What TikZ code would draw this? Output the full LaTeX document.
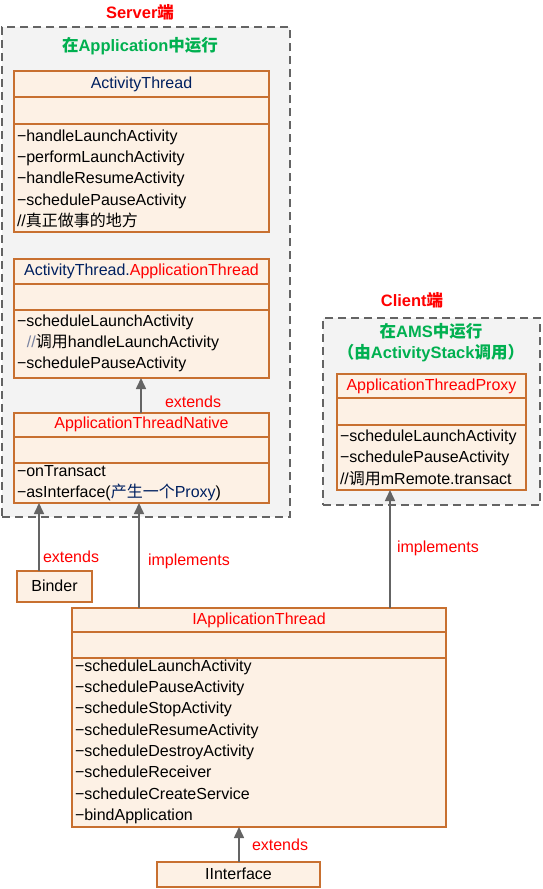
\documentclass[tikz,border=0pt]{standalone}
\usepackage{fontspec}
\setmainfont{Liberation Sans}
\newfontfamily\cjk{Noto Sans CJK SC}
\newcommand\zhtxt[1]{{\cjk #1}}
\newcommand\mns{\char"2212\relax}
\usetikzlibrary{arrows.meta}
\definecolor{boxfill}{RGB}{253,241,229}
\definecolor{boxline}{RGB}{200,112,48}
\definecolor{grpfill}{RGB}{243,243,243}
\definecolor{grpline}{RGB}{100,100,100}
\definecolor{arrgray}{RGB}{100,100,100}
\definecolor{navy}{RGB}{0,32,96}
\definecolor{redtxt}{RGB}{255,0,0}
\definecolor{greentxt}{RGB}{0,176,80}
\definecolor{slashgray}{RGB}{120,130,160}
\tikzset{
  base/.style={inner sep=0pt, outer sep=0pt, font=\fontsize{16}{19}\selectfont},
  cls/.style={draw=boxline, fill=boxfill, line width=1.4pt, rectangle, inner sep=0pt, outer sep=0pt},
  sep/.style={draw=boxline, line width=1.4pt},
  grp/.style={draw=grpline, fill=grpfill, dash pattern=on 8pt off 5pt, line width=1.4pt, rectangle, inner sep=0pt},
  mtxt/.style={base, anchor=west, text height=12pt, text depth=3.5pt},
  ttxt/.style={base, text height=12pt, text depth=3.5pt},
  lbl/.style={base, text=redtxt, anchor=west, text height=12pt, text depth=3.5pt},
  head/.style={base, font=\fontsize{16.5}{19}\selectfont\bfseries, text height=12pt, text depth=3.5pt},
  arr/.style={draw=arrgray, line width=1.6pt, -{Triangle[width=10pt,length=11pt]}, color=arrgray},
}
\begin{document}
\begin{tikzpicture}[x=1pt,y=-1pt]
\useasboundingbox (0,0) rectangle (543,889);

% ---------- Server group ----------
\node[head, text=redtxt] (srvlbl) at (140,14) {Server\zhtxt{端}};
\node[grp, minimum width=288pt, minimum height=490pt] (srv) at (146,272) {};
\node[head, text=greentxt] (srvhead) at (140,47) {\zhtxt{在}Application\zhtxt{中运行}};

% ActivityThread
\node[cls, minimum width=255pt, minimum height=161pt] (at) at (141.5,151.5) {};
\draw[sep] (at.west |- 0,97) -- (at.east |- 0,97);
\draw[sep] (at.west |- 0,124) -- (at.east |- 0,124);
\node[ttxt, text=navy] (att) at (141.5,84) {ActivityThread};
\node[mtxt] (at1) at (17,137) {\mns handleLaunchActivity};
\node[mtxt] (at2) at (17,158) {\mns performLaunchActivity};
\node[mtxt] (at3) at (17,179) {\mns handleResumeActivity};
\node[mtxt] (at4) at (17,201) {\mns schedulePauseActivity};
\node[mtxt] (at5) at (17,222) {//\zhtxt{真正做事的地方}};

% ActivityThread.ApplicationThread
\node[cls, minimum width=255pt, minimum height=119pt] (apt) at (141.5,318.5) {};
\draw[sep] (apt.west |- 0,284) -- (apt.east |- 0,284);
\draw[sep] (apt.west |- 0,310) -- (apt.east |- 0,310);
\node[ttxt, text=navy] (aptt) at (141.5,271) {ActivityThread.\textcolor{redtxt}{ApplicationThread}};
\node[mtxt] (apt1) at (17,322) {\mns scheduleLaunchActivity};
\node[mtxt] (apt2) at (27,343) {\textcolor{slashgray}{//}\zhtxt{调用}handleLaunchActivity};
\node[mtxt] (apt3) at (17,364) {\mns schedulePauseActivity};

% ApplicationThreadNative
\node[cls, minimum width=255pt, minimum height=90pt] (atn) at (141.5,458) {};
\draw[sep] (atn.west |- 0,437) -- (atn.east |- 0,437);
\draw[sep] (atn.west |- 0,463) -- (atn.east |- 0,463);
\node[ttxt, text=redtxt] (atnt) at (141.5,424) {ApplicationThreadNative};
\node[mtxt] (atn1) at (17,472) {\mns onTransact};
\node[mtxt] (atn2) at (17,493) {\mns asInterface(\textcolor{navy}{\zhtxt{产生一个}Proxy})};

% ---------- Client group ----------
\node[head, text=redtxt] (clilbl) at (412,302) {Client\zhtxt{端}};
\node[grp, minimum width=217pt, minimum height=187pt] (cli) at (431.5,411.5) {};
\node[head, text=greentxt] (clihead1) at (431,333) {\zhtxt{在}AMS\zhtxt{中运行}};
\node[head, text=greentxt] (clihead2) at (431,354) {\zhtxt{（由}ActivityStack\zhtxt{调用）}};

% ApplicationThreadProxy
\node[cls, minimum width=189pt, minimum height=116pt] (atp) at (431.5,432) {};
\draw[sep] (atp.west |- 0,398) -- (atp.east |- 0,398);
\draw[sep] (atp.west |- 0,425) -- (atp.east |- 0,425);
\node[ttxt, text=redtxt] (atpt) at (431.5,386) {ApplicationThreadProxy};
\node[mtxt] (atp1) at (340,437) {\mns scheduleLaunchActivity};
\node[mtxt] (atp2) at (340,458) {\mns schedulePauseActivity};
\node[mtxt] (atp3) at (340,480) {//\zhtxt{调用}mRemote.transact};

% ---------- Binder ----------
\node[cls, minimum width=75pt, minimum height=31pt] (binder) at (54.5,586.5) {};
\node[ttxt] (bindert) at (54.5,587) {Binder};

% ---------- IApplicationThread ----------
\node[cls, minimum width=374pt, minimum height=219pt] (iat) at (259,717.5) {};
\draw[sep] (iat.west |- 0,632) -- (iat.east |- 0,632);
\draw[sep] (iat.west |- 0,658) -- (iat.east |- 0,658);
\node[ttxt, text=redtxt] (iatt) at (259,620) {IApplicationThread};
\node[mtxt] (iat1) at (75,667) {\mns scheduleLaunchActivity};
\node[mtxt] (iat2) at (75,688) {\mns schedulePauseActivity};
\node[mtxt] (iat3) at (75,709) {\mns scheduleStopActivity};
\node[mtxt] (iat4) at (75,731) {\mns scheduleResumeActivity};
\node[mtxt] (iat5) at (75,752) {\mns scheduleDestroyActivity};
\node[mtxt] (iat6) at (75,773) {\mns scheduleReceiver};
\node[mtxt] (iat7) at (75,795) {\mns scheduleCreateService};
\node[mtxt] (iat8) at (75,816) {\mns bindApplication};

% ---------- IInterface ----------
\node[cls, minimum width=163pt, minimum height=25pt] (iif) at (238.5,874.5) {};
\node[ttxt] (iift) at (238.5,875) {IInterface};

% ---------- connectors ----------
\draw[arr] (atn.north -| 141,0) -- (apt.south -| 141,0);
\node[lbl] (l1) at (165,403) {extends};

\draw[arr] (binder.north -| 39,0) -- (atn.south -| 39,0);
\node[lbl] (l2) at (43,558) {extends};

\draw[arr] (iat.north -| 139,0) -- (atn.south -| 139,0);
\node[lbl] (l3) at (148,561) {implements};

\draw[arr] (iat.north -| 390,0) -- (atp.south -| 390,0);
\node[lbl] (l4) at (397,548) {implements};

\draw[arr] (iif.north -| 239,0) -- (iat.south -| 239,0);
\node[lbl] (l5) at (252,846) {extends};
\end{tikzpicture}
\end{document}
